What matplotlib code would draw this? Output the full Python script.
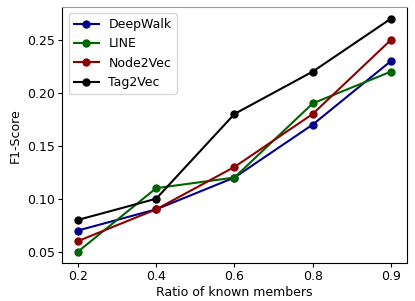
import numpy as np
import matplotlib.pyplot as plt

ratios = ["0.2", "0.4", "0.6", "0.8", "0.9"]
deepwalk = [0.07, 0.09, 0.12, 0.17, 0.23]
line = [0.05, 0.11, 0.12, 0.19, 0.22]
node2vec = [0.06, 0.09, 0.13, 0.18, 0.25]
tag2vec = [0.08, 0.10, 0.18, 0.22, 0.27]

names = ["DeepWalk", "LINE", "Node2Vec", "Tag2Vec"]
colors = ["#00008B", "#006400", "#8B0000", "black"]

fig, ax = plt.subplots(figsize=(4.15, 3.01), dpi=100)
x = np.arange(len(ratios))
for ys, name, c in zip([deepwalk, line, node2vec, tag2vec], names, colors):
    ax.plot(x, ys, marker="o", markersize=5, color=c, linewidth=1.5, label=name)

ax.set_xticks(x)
ax.set_xticklabels(ratios)
ax.set_yticks([0.05, 0.10, 0.15, 0.20, 0.25])
ax.set_yticklabels(["0.05", "0.10", "0.15", "0.20", "0.25"])
ax.tick_params(labelsize=9, length=3, pad=2)
ax.set_xlabel("Ratio of known members", fontsize=9, labelpad=2)
ax.set_ylabel("F1-Score", fontsize=9, labelpad=4)
ax.spines["top"].set_color("#999999")
ax.legend(fontsize=9, loc="upper left")

plt.subplots_adjust(left=0.15, right=0.98, bottom=0.125, top=0.977)
fig.savefig("out.png")
